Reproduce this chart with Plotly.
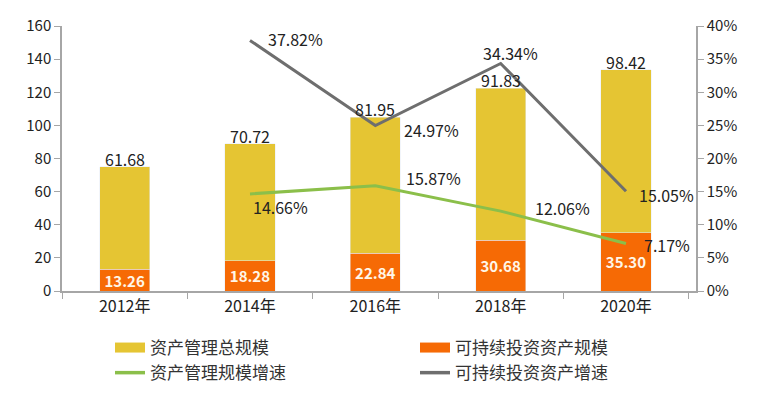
import plotly.graph_objects as go

years = ["2012年", "2014年", "2016年", "2018年", "2020年"]
total_scale = [61.68, 70.72, 81.95, 91.83, 98.42]
sustain_scale = [13.26, 18.28, 22.84, 30.68, 35.30]
growth_years = ["2014年", "2016年", "2018年", "2020年"]
total_growth = [0.1466, 0.1587, 0.1206, 0.0717]
sustain_growth = [0.3782, 0.2497, 0.3434, 0.1505]

# label placement for growth labels: (xanchor, xshift, yshift)
total_growth_pos = [("left", 1, -13), ("left", 29, 8), ("left", 32, 3), ("left", 16, -1)]
sustain_growth_pos = [("left", 16, 1), ("left", 27, -4), ("center", 10, 11), ("left", 11, -4)]

YELLOW = "#E5C533"
ORANGE = "#F66A05"
GREEN = "#8BBF4A"
GRAY = "#6E6E6E"
FONT = "Noto Sans CJK SC, Noto Sans, sans-serif"
AXIS = "#A6A6A6"

fig = go.Figure()
fig.add_trace(go.Bar(
    x=years, y=sustain_scale, name="可持续投资资产规模", marker_color=ORANGE,
    text=[f"{v:.2f}" for v in sustain_scale], textposition="inside",
    insidetextanchor="middle", constraintext="none",
    textfont=dict(color="#FFF6E8", size=15, family=FONT, weight="bold"),
    showlegend=False, width=0.4,
))
fig.add_trace(go.Bar(
    x=years, y=total_scale, name="资产管理总规模", marker_color=YELLOW,
    showlegend=False, width=0.4,
))
fig.add_trace(go.Scatter(
    x=growth_years, y=total_growth, name="资产管理规模增速", yaxis="y2",
    mode="lines", line=dict(color=GREEN, width=3), showlegend=False,
))
fig.add_trace(go.Scatter(
    x=growth_years, y=sustain_growth, name="可持续投资资产增速", yaxis="y2",
    mode="lines", line=dict(color=GRAY, width=3), showlegend=False,
))

# legend entries
for name, color, w, rank in [("资产管理总规模", YELLOW, 11, 1),
                             ("可持续投资资产规模", ORANGE, 11, 2),
                             ("资产管理规模增速", GREEN, 3.5, 3),
                             ("可持续投资资产增速", GRAY, 3.5, 4)]:
    fig.add_trace(go.Scatter(x=[None], y=[None], mode="lines", name=name,
                             line=dict(color=color, width=w), legendrank=rank))

# total scale labels above stacked bars
for xv, t, s in zip(years, total_scale, sustain_scale):
    fig.add_annotation(x=xv, y=t + s, xref="x", yref="y", text=f"{t:.2f}",
                       showarrow=False, xanchor="center", yanchor="middle", yshift=8,
                       font=dict(size=16, color="#222222", family=FONT))

# growth labels
for vals, pos in [(total_growth, total_growth_pos), (sustain_growth, sustain_growth_pos)]:
    for xv, v, (anchor, dx, dy) in zip(growth_years, vals, pos):
        fig.add_annotation(x=xv, y=v, xref="x", yref="y2", text=f"{v*100:.2f}%",
                           showarrow=False, xanchor=anchor, yanchor="middle",
                           xshift=dx, yshift=dy,
                           font=dict(size=16, color="#222222", family=FONT))

fig.update_layout(
    width=776, height=394,
    margin=dict(l=62, r=80, t=26, b=103, autoexpand=False),
    plot_bgcolor="white", paper_bgcolor="white",
    barmode="stack",
    font=dict(family=FONT, size=15, color="#222222"),
    showlegend=True,
    legend=dict(orientation="h", x=(110 - 62) / 634, y=-39 / 265,
                xanchor="left", yanchor="top",
                entrywidth=260, font=dict(size=17, color="#333333"),
                traceorder="normal", tracegroupgap=0, itemwidth=30),
    xaxis=dict(showline=True, linecolor=AXIS, linewidth=1.5,
               ticks="outside", tickson="boundaries", ticklen=6, tickcolor=AXIS,
               tickfont=dict(size=16), showgrid=False),
    yaxis=dict(range=[0, 160], dtick=20, showline=True, linecolor=AXIS, linewidth=1.5,
               ticks="outside", ticklen=6, tickcolor=AXIS, showgrid=False,
               zeroline=False, tickfont=dict(size=15)),
    yaxis2=dict(range=[0, 0.4], dtick=0.05, tickformat=".0%", overlaying="y", side="right",
                showline=True, linecolor=AXIS, linewidth=1.5, ticks="outside",
                ticklen=6, tickcolor=AXIS, showgrid=False, zeroline=False,
                tickfont=dict(size=15)),
)

fig.write_html("out.html", post_script="document.body.style.margin='0';",
               config={"displayModeBar": False})
